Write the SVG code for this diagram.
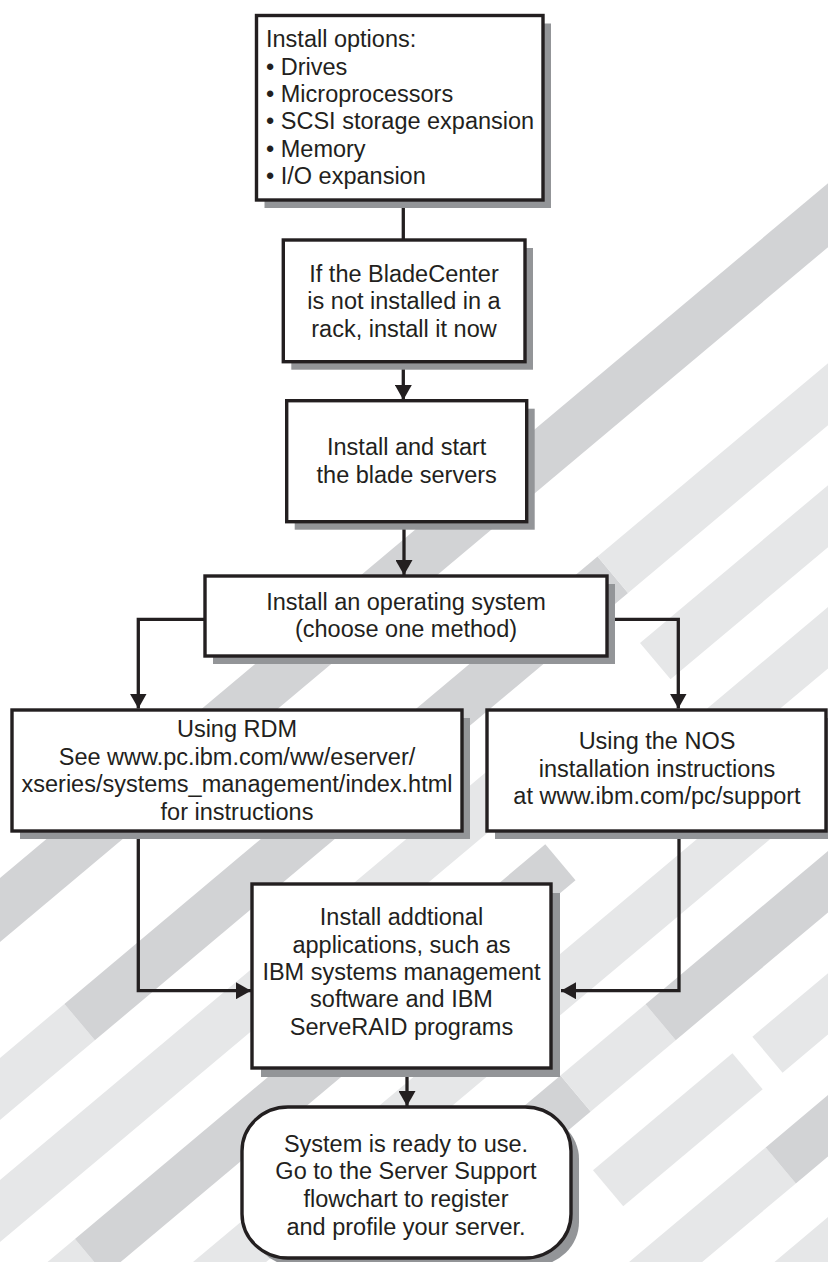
<svg xmlns="http://www.w3.org/2000/svg" width="828" height="1262" viewBox="0 0 828 1262">
<defs>
<style>
.bg{fill:#ffffff}
.dk{fill:#d2d3d5}
.lt{fill:#e6e7e8}
.sh{fill:#939598}
.box{fill:#ffffff;stroke:#231f20;stroke-width:3.4}
.ln{fill:none;stroke:#231f20;stroke-width:3.3}
text{font-family:'Liberation Sans',Arial,Helvetica,sans-serif;font-size:23.5px;fill:#231f20}
.c{text-anchor:middle}
</style>
<marker id="ah" viewBox="0 0 15 17" refX="15" refY="8.5" markerWidth="15" markerHeight="17" markerUnits="userSpaceOnUse" orient="auto">
<path d="M0,0 L15,8.5 L0,17 z" fill="#231f20"/>
</marker>
</defs>
<rect class="bg" x="0" y="0" width="828" height="1262"/>
<g id="background" transform="rotate(-40)">
<rect class="dk" x="-900" y="672.6" width="1600" height="49"/>
<rect class="lt" x="-900" y="810.4" width="304" height="47.5"/>
<rect class="dk" x="-596" y="810.4" width="696" height="47.5"/>
<rect class="lt" x="100" y="810.4" width="600" height="47.5"/>
<rect class="lt" x="-900" y="903.9" width="853" height="47.5"/>
<rect class="lt" x="77" y="903.9" width="623" height="47.5"/>
<rect class="lt" x="-900" y="997.3" width="161" height="47"/>
<rect class="dk" x="-739" y="997.3" width="614" height="47"/>
<rect class="lt" x="44" y="997.3" width="656" height="47"/>
<rect class="lt" x="-900" y="1090.8" width="1600" height="47"/>
<rect class="dk" x="-900" y="1184.2" width="638" height="47"/>
<rect class="lt" x="-262" y="1184.2" width="111" height="47"/>
<rect class="dk" x="-151" y="1184.2" width="851" height="47"/>
<rect class="lt" x="-900" y="1277.7" width="480" height="47"/>
<rect class="lt" x="-298" y="1277.7" width="182" height="47"/>
<rect class="lt" x="-90" y="1277.7" width="790" height="47"/>
<rect class="lt" x="-900" y="1371.1" width="749" height="47"/>
<rect class="dk" x="-151" y="1371.1" width="851" height="47"/>
<rect class="lt" x="-900" y="1464.6" width="1600" height="47"/>
</g>
<g id="connectors">
<line class="ln" x1="403.3" y1="200" x2="403.3" y2="240"/>
<line class="ln" x1="403.3" y1="361.7" x2="403.3" y2="400" marker-end="url(#ah)"/>
<line class="ln" x1="404" y1="521.7" x2="404" y2="575" marker-end="url(#ah)"/>
<polyline class="ln" points="205,619.3 138.3,619.3 138.3,708.5" marker-end="url(#ah)"/>
<polyline class="ln" points="607,619.3 678.3,619.3 678.3,708.5" marker-end="url(#ah)"/>
<polyline class="ln" points="138.3,831 138.3,990.7 251,990.7" marker-end="url(#ah)"/>
<polyline class="ln" points="679,831 679,990.7 561,990.7" marker-end="url(#ah)"/>
<line class="ln" x1="407" y1="1068" x2="407" y2="1106" marker-end="url(#ah)"/>
</g>
<g id="n1">
<rect class="sh" x="264.5" y="23.5" width="286.5" height="184.5"/>
<rect class="box" x="256.5" y="15.5" width="286.5" height="184.5"/>
<text x="266" y="47">Install options:</text>
<text x="266" y="74.5">• Drives</text>
<text x="266" y="102">• Microprocessors</text>
<text x="266" y="129.3">• SCSI storage expansion</text>
<text x="266" y="156.7">• Memory</text>
<text x="266" y="184">• I/O expansion</text>
</g>
<g id="n2">
<rect class="sh" x="291.3" y="248" width="241.7" height="121.7"/>
<rect class="box" x="283.3" y="240" width="241.7" height="121.7"/>
<text class="c" x="404" y="282">If the BladeCenter</text>
<text class="c" x="404" y="309.3">is not installed in a</text>
<text class="c" x="404" y="336.7">rack, install it now</text>
</g>
<g id="n3">
<rect class="sh" x="294.7" y="408.7" width="240" height="121"/>
<rect class="box" x="286.7" y="400.7" width="240" height="121"/>
<text class="c" x="406.7" y="455">Install and start</text>
<text class="c" x="406.7" y="482.7">the blade servers</text>
</g>
<g id="n4">
<rect class="sh" x="213" y="584" width="402" height="80"/>
<rect class="box" x="205" y="576" width="402" height="80"/>
<text class="c" x="406" y="610">Install an operating system</text>
<text class="c" x="406" y="636.7">(choose one method)</text>
</g>
<g id="n5">
<rect class="sh" x="20" y="718" width="450" height="121"/>
<rect class="box" x="12" y="710" width="450" height="121"/>
<text class="c" x="237" y="737.3">Using RDM</text>
<text class="c" x="237" y="764.8">See www.pc.ibm.com/ww/eserver/</text>
<text class="c" x="237" y="792.3">xseries/systems_management/index.html</text>
<text class="c" x="237" y="819.8">for instructions</text>
</g>
<g id="n6">
<rect class="sh" x="495" y="718" width="339" height="121"/>
<rect class="box" x="487" y="710" width="339" height="121"/>
<text class="c" x="657" y="749">Using the NOS</text>
<text class="c" x="657" y="776.7">installation instructions</text>
<text class="c" x="657" y="804.3">at www.ibm.com/pc/support</text>
</g>
<g id="n7">
<rect class="sh" x="261" y="893" width="299" height="184"/>
<rect class="box" x="252" y="884" width="299" height="184"/>
<text class="c" x="401.5" y="925">Install addtional</text>
<text class="c" x="401.5" y="952.7">applications, such as</text>
<text class="c" x="401.5" y="980">IBM systems management</text>
<text class="c" x="401.5" y="1007.3">software and IBM</text>
<text class="c" x="401.5" y="1035">ServeRAID programs</text>
</g>
<g id="n8">
<rect class="sh" x="250" y="1115" width="329" height="151" rx="46" ry="44"/>
<rect class="box" x="242" y="1107" width="329" height="151" rx="46" ry="44"/>
<text class="c" x="406" y="1151.7">System is ready to use.</text>
<text class="c" x="406" y="1179.3">Go to the Server Support</text>
<text class="c" x="406" y="1206.7">flowchart to register</text>
<text class="c" x="406" y="1235">and profile your server.</text>
</g>
</svg>
